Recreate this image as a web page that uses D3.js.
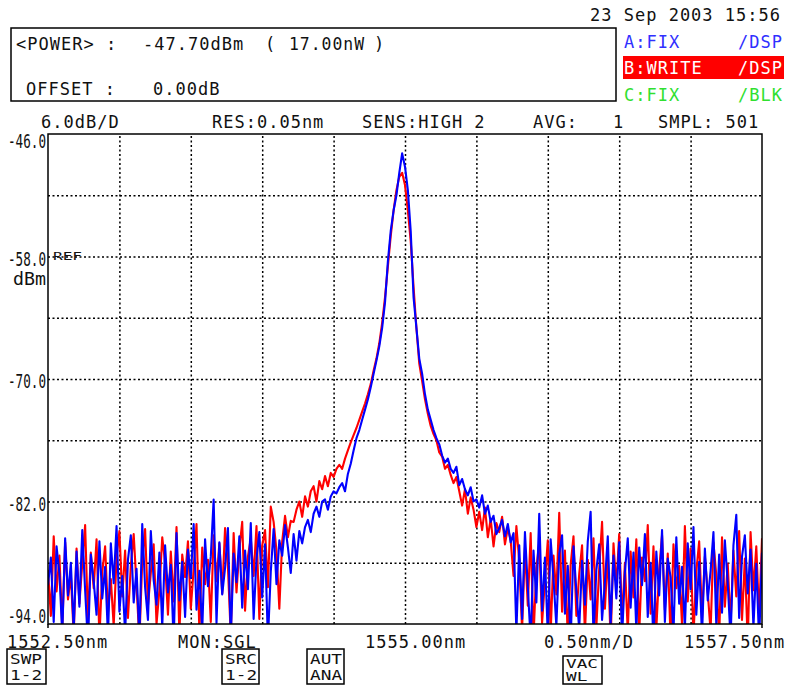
<!DOCTYPE html>
<html lang="en">
<head>
  <meta charset="UTF-8">
  <title>OSA trace</title>
  <style>
    body { margin: 0; background: #fff; }
    svg text {
      font-family: "DejaVu Sans Mono", "Liberation Mono", monospace;
      font-size: 17px;
      letter-spacing: 1px;
      fill: #111;
    }
    .grid line { stroke: #000; stroke-width: 1.5; stroke-dasharray: 2, 2.5; }
    .grid path { display: none; }
    .trace { fill: none; stroke-width: 2.1; stroke-linejoin: round; }
  </style>
</head>
<body>
<svg id="chart" width="794" height="686"></svg>

<script src="https://d3js.org/d3.v7.min.js"></script>
<script>
  // sampling: 1552.50 nm .. 1557.50 nm, 0.02 nm per point
  const wlStart = 1552.5;
  const wlStep = 0.02;

  // trace A (blue), dBm
  const blueDbm = [
    -90.2, -87.5, -93.8, -86.4, -89.1, -95.0, -85.6, -91.2, -88.0, -94.6,
    -86.9, -92.3, -84.8, -90.7, -96.0, -87.2, -89.8, -93.1, -85.9, -91.5,
    -88.4, -95.2, -86.1, -90.0, -84.4, -92.8, -89.3, -94.9, -87.7, -85.3,
    -91.9, -88.6, -95.5, -84.2, -90.4, -93.6, -84.9, -89.7, -92.1, -87.0,
    -94.3, -86.3, -90.9, -88.2, -95.8, -85.1, -91.7, -87.9, -93.3, -86.7,
    -89.5, -84.2, -92.6, -88.8, -94.7, -85.7, -90.3, -87.4, -81.8, -93.9,
    -86.0, -91.1, -88.5, -84.6, -95.3, -87.1, -89.9, -85.4, -92.4, -86.8,
    -90.6, -84.1, -93.5, -87.6, -85.0, -91.4, -86.2, -95.6, -88.9, -84.7,
    -90.1, -85.8, -87.3, -84.3, -86.5, -89.0, -85.2, -87.8, -84.9, -86.1,
    -84.5, -83.8, -85.0, -83.2, -82.5, -83.5, -82.0, -81.8, -82.8, -81.5,
    -81.0, -81.2, -80.6, -80.2, -81.0, -79.3, -78.3, -77.0, -75.8, -75.0,
    -74.0, -73.0, -72.0, -70.8, -69.5, -68.2, -66.8, -65.0, -62.5, -58.5,
    -55.5, -53.5, -52.0, -49.8, -47.9, -49.2, -51.5, -55.5, -62.0, -65.0,
    -68.0, -69.5, -71.5, -73.0, -74.0, -75.0, -75.8, -76.4, -77.5, -78.2,
    -77.8, -78.8, -79.2, -78.6, -80.4, -79.8, -80.8, -81.4, -80.6, -82.0,
    -81.8, -82.6, -81.4, -83.2, -82.4, -84.0, -83.4, -85.2,
    -84.6, -83.8, -85.4, -84.2, -86.0, -85.1, -94.8, -86.3, -93.5, -85.0,
    -90.4, -95.6, -86.8, -91.9, -83.2, -92.7, -87.5, -95.1, -85.7, -89.6,
    -94.2, -87.1, -85.3, -93.0, -88.3, -95.8, -86.4, -90.8, -94.5, -87.8,
    -92.1, -85.9, -83.0, -95.3, -88.7, -86.2, -93.6, -89.9, -85.4, -94.0,
    -87.3, -91.5, -86.0, -95.4, -88.9, -85.6, -92.4, -87.0, -94.7, -86.5,
    -90.2, -85.2, -93.3, -88.0, -95.9, -86.9, -91.2, -84.8, -93.8, -87.6,
    -89.4, -95.0, -85.5, -92.0, -88.4, -94.4, -86.1, -90.6, -84.5, -93.1,
    -87.9, -95.2, -86.6, -91.7, -88.8, -85.0, -94.1, -87.2, -92.9, -85.8,
    -90.0, -95.5, -86.3, -83.3, -93.4, -87.4, -85.3, -91.0, -86.7, -94.3,
    -88.1, -95.7, -87.0
  ];

  // trace B (red), dBm
  const redDbm = [
    -88.7, -93.2, -85.4, -90.8, -87.3, -94.5, -86.0, -91.6, -89.2, -95.1,
    -86.6, -92.0, -88.1, -84.3, -93.7, -87.0, -90.5, -85.7, -95.4, -88.9,
    -86.4, -92.9, -89.6, -94.2, -87.5, -84.9, -91.3, -86.8, -93.4, -88.3,
    -85.2, -90.2, -95.7, -87.8, -84.7, -92.2, -89.0, -86.2, -94.0, -90.7,
    -85.5, -88.0, -93.1, -86.9, -91.8, -84.5, -95.0, -87.2, -89.4, -85.9,
    -92.5, -88.6, -84.2, -94.8, -86.5, -90.1, -87.7, -93.8, -85.3, -89.8,
    -86.1, -91.0, -84.6, -88.4, -95.2, -85.1, -90.9, -86.7, -84.0, -92.7,
    -87.4, -85.6, -89.3, -84.4, -93.5, -86.3, -84.8, -90.4, -82.5, -84.0,
    -86.8, -92.5, -85.9, -83.4, -85.5, -83.9,
    -84.0, -82.8, -82.0, -83.5, -81.5, -82.5, -81.0, -80.5, -82.0, -80.0,
    -80.8, -79.5, -80.5, -79.2, -79.6, -78.8, -78.4, -78.8, -77.8, -77.0,
    -76.2, -75.5, -74.8, -74.0, -73.2, -72.4, -71.5, -70.5, -69.2, -68.0,
    -66.5, -64.5, -62.0, -59.0, -56.0, -53.5, -51.5, -50.2, -49.8, -51.0,
    -53.5, -56.5, -61.0, -65.0, -68.5, -70.2, -72.0, -73.4, -74.6, -75.4,
    -76.0, -77.2, -77.6, -78.8, -78.4, -79.4, -80.2, -79.6, -81.0, -82.4,
    -80.8, -83.2, -81.6, -82.8, -84.5,
    -83.0, -84.8, -82.6, -85.5, -83.7, -86.4, -84.1, -85.0, -83.5, -86.2,
    -84.6, -85.8, -89.3, -84.4, -87.8, -94.6, -86.5, -92.2, -85.1, -95.3,
    -88.5, -86.0, -93.9, -89.7, -85.8, -94.9, -87.3, -91.1, -83.1, -92.8,
    -86.8, -95.5, -88.2, -85.4, -93.2, -89.1, -86.3, -95.0, -87.7, -91.6,
    -85.6, -94.3, -88.6, -84.0, -92.5, -87.0, -95.8, -86.1, -90.3, -85.2,
    -93.7, -88.0, -94.8, -86.9, -91.4, -85.7, -95.1, -87.5, -89.8, -84.3,
    -93.0, -86.4, -94.5, -88.7, -85.3, -92.6, -87.1, -95.6, -86.2, -90.5,
    -88.3, -94.1, -84.4, -91.8, -86.6, -95.2, -88.9, -85.9, -93.4, -87.4,
    -90.9, -94.7, -86.0, -89.2, -95.4, -85.5, -92.3, -88.1, -94.0, -86.8,
    -91.3, -84.9, -93.6, -87.6, -95.9, -85.0, -90.7, -86.4, -93.3, -85.6
  ];

  const yLevels = [-46, -52, -58, -64, -70, -76, -82, -88, -94];
  const yLabels = ["-46.0", "-58.0", "-70.0", "-82.0", "-94.0"];
  const xGrid = [1553.0, 1553.5, 1554.0, 1554.5, 1555.0, 1555.5, 1556.0, 1556.5, 1557.0];

  const svg = d3.select("#chart");
  const L = 48, R = 762, T = 134, B = 624;

  const x = d3.scaleLinear().domain([1552.5, 1557.5]).range([L, R]);
  const y = d3.scaleLinear().domain([-94, -46]).range([B, T]);

  function txt(s, px, py, opts) {
    opts = opts || {};
    const t = svg.append("text").attr("x", px).attr("y", py).text(s);
    if (opts.fill) t.style("fill", opts.fill);
    if (opts.anchor) t.attr("text-anchor", opts.anchor);
    if (opts.size) t.style("font-size", opts.size + "px");
    if (opts.len) t.attr("textLength", opts.len).attr("lengthAdjust", "spacingAndGlyphs");
    if (opts.ls != null) t.style("letter-spacing", opts.ls + "px");
    return t;
  }

  // header
  txt("23 Sep 2003 15:56", 590, 21);
  svg.append("rect").attr("x", 11).attr("y", 28).attr("width", 605).attr("height", 73)
    .attr("fill", "none").attr("stroke", "#000").attr("stroke-width", 1.5);
  txt("<POWER> :", 16, 50);
  txt("-47.70dBm", 143, 50);
  txt("(", 265, 50);
  txt("17.00nW", 289, 50, { len: 76 });
  txt(")", 374, 50);
  txt("OFFSET :", 26, 95);
  txt("0.00dB", 153, 95);

  // trace status
  txt("A:FIX", 624, 48, { fill: "#3030ff" });
  txt("/DSP", 738, 48, { fill: "#3030ff" });
  svg.append("rect").attr("x", 623).attr("y", 56).attr("width", 161).attr("height", 23).attr("fill", "#ff0000");
  txt("B:WRITE", 624, 74, { fill: "#fff" });
  txt("/DSP", 738, 74, { fill: "#fff" });
  txt("C:FIX", 624, 101, { fill: "#30e030" });
  txt("/BLK", 738, 101, { fill: "#30e030" });

  txt("6.0dB/D", 41, 128);
  txt("RES:0.05nm", 212, 128);
  txt("SENS:HIGH 2", 362, 128);
  txt("AVG:", 533, 128);
  txt("1", 613, 128);
  txt("SMPL: 501", 658, 128);

  // grid
  svg.append("g").attr("class", "grid")
    .attr("transform", "translate(0," + B + ")")
    .call(d3.axisBottom(x).tickValues(xGrid).tickSize(-(B - T)).tickFormat(""));
  svg.append("g").attr("class", "grid")
    .attr("transform", "translate(" + L + ",0)")
    .call(d3.axisLeft(y).tickValues(yLevels.slice(1, -1)).tickSize(-(R - L)).tickFormat(""));

  // traces
  svg.append("clipPath").attr("id", "plotClip")
    .append("rect").attr("x", L).attr("y", T).attr("width", R - L).attr("height", B - T);

  const line = d3.line()
    .x((d, i) => x(wlStart + i * wlStep))
    .y(d => y(d));

  const traces = svg.append("g").attr("clip-path", "url(#plotClip)");
  traces.append("path").datum(redDbm).attr("class", "trace").attr("stroke", "#ff0000").attr("d", line);
  traces.append("path").datum(blueDbm).attr("class", "trace").attr("stroke", "#0000ff").attr("d", line);

  // frame
  svg.append("rect").attr("x", L).attr("y", T).attr("width", R - L).attr("height", B - T)
    .attr("fill", "none").attr("stroke", "#000").attr("stroke-width", 1.5);
  svg.append("line").attr("x1", L).attr("x2", L).attr("y1", B).attr("y2", B + 4).attr("stroke", "#000").attr("stroke-width", 1.5);
  svg.append("line").attr("x1", R).attr("x2", R).attr("y1", B).attr("y2", B + 4).attr("stroke", "#000").attr("stroke-width", 1.5);

  // y labels
  yLabels.forEach((s, k) => {
    const v = +s;
    let py = y(v) + 9;
    if (k === 0) py = y(v) + 14;
    if (k === yLabels.length - 1) py = y(v) - 1;
    txt(s, 46, py, { anchor: "end", size: 19, len: 38, ls: 0 });
  });
  txt("REF", 53, 260, { size: 10, len: 29, ls: 0 });
  txt("dBm", 46, 285, { anchor: "end", size: 17, len: 33, ls: 0 });

  // x labels
  txt("1552.50nm", 7, 648);
  txt("MON:SGL", 178, 648);
  txt("1555.00nm", 365, 648);
  txt("0.50nm/D", 544, 648);
  txt("1557.50nm", 684, 648);

  // soft keys
  const keys = [
    { a: "SWP", b: "1-2", x0: 7, y0: 649, w: 39, h: 35 },
    { a: "SRC", b: "1-2", x0: 222, y0: 649, w: 37, h: 35 },
    { a: "AUT", b: "ANA", x0: 307, y0: 649, w: 37, h: 35 },
    { a: "VAC", b: "WL", x0: 563, y0: 656, w: 39, h: 28 }
  ];
  keys.forEach(k => {
    const small = k.h < 30;
    svg.append("rect").attr("x", k.x0).attr("y", k.y0).attr("width", k.w).attr("height", k.h)
      .attr("fill", "none").attr("stroke", "#000").attr("stroke-width", 1.5);
    const fs = small ? 12 : 14;
    const top = small ? k.y0 + 12 : k.y0 + 15;
    const bot = small ? k.y0 + 25 : k.y0 + 31;
    txt(k.a, k.x0 + 3, top, { size: fs, len: 32, ls: 0 });
    txt(k.b, k.x0 + 3, bot, { size: fs, len: k.b.length * 10.7, ls: 0 });
  });
</script>
</body>
</html>
